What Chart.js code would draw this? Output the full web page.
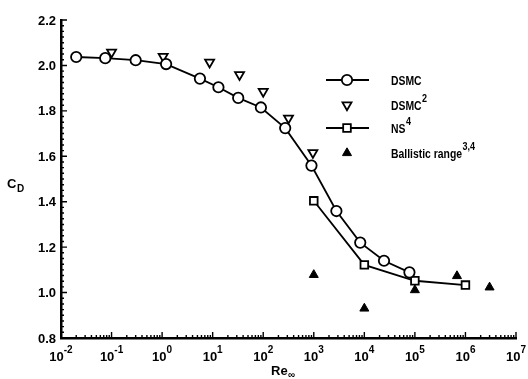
<html>
<head>
<meta charset="utf-8">
<title>CD vs Re</title>
<script src="https://cdn.jsdelivr.net/npm/chart.js@4.4.0/dist/chart.umd.min.js"></script>
<style>
  body { margin: 0; background: #fff; }
  #c { display: block; }
</style>
</head>
<body>
<canvas id="c" width="528" height="379"></canvas>
<script>
// values
var dsmcRe  = [0.02, 0.075, 0.3, 1.2, 5.6, 13, 32, 90, 272, 900, 2800, 8300, 24500, 78000];
var dsmcCd  = [2.037, 2.032, 2.023, 2.006, 1.942, 1.904, 1.857, 1.815, 1.724, 1.559, 1.359, 1.22, 1.14, 1.089];
var dsmc2Re = [0.1, 1.05, 8.7, 34, 100, 316, 960];
var dsmc2Cd = [2.058, 2.039, 2.014, 1.959, 1.885, 1.768, 1.616];
var nsRe    = [1000, 10000, 100000, 1000000];
var nsCd    = [1.404, 1.122, 1.052, 1.033];
var ballRe  = [1000, 10000, 100000, 680000, 3000000];
var ballCd  = [1.078, 0.93, 1.011, 1.073, 1.023];

var xExps   = [-2, -1, 0, 1, 2, 3, 4, 5, 6, 7];
var yTicks  = [0.8, 1.0, 1.2, 1.4, 1.6, 1.8, 2.0, 2.2];

var legendNames = [["DSMC", ""], ["DSMC", "2"], ["NS", "4"], ["Ballistic range", "3,4"]];

function pts(xs, ys) {
  return xs.map(function (x, i) { return { x: x, y: ys[i] }; });
}

var FONT = "'Liberation Sans', Arial, sans-serif";

// condensed bold text, like the scanned original
function squeezed(ctx, txt, x, y, size, sx) {
  ctx.save();
  ctx.font = 'bold ' + size + 'px ' + FONT;
  ctx.translate(x, y);
  ctx.scale(sx, 1);
  ctx.fillText(txt, 0, 0);
  var w = ctx.measureText(txt).width * sx;
  ctx.restore();
  return w;
}

// draws ticks, labels, titles and the in-plot legend
var decor = {
  id: 'decor',
  afterDraw: function (chart) {
    var ctx = chart.ctx;
    var xs = chart.scales.x, ys = chart.scales.y;
    var area = chart.chartArea;
    var x0 = area.left, yb = area.bottom;
    ctx.save();
    ctx.strokeStyle = '#000';
    ctx.fillStyle = '#000';
    ctx.lineWidth = 1.4;

    // x ticks (inward)
    ctx.beginPath();
    xExps.forEach(function (e, i) {
      var px = xs.getPixelForValue(Math.pow(10, e));
      ctx.moveTo(px, yb); ctx.lineTo(px, yb - 6);
      if (i < xExps.length - 1) {
        for (var m = 2; m <= 9; m++) {
          var mx = xs.getPixelForValue(m * Math.pow(10, e));
          ctx.moveTo(mx, yb); ctx.lineTo(mx, yb - 3);
        }
      }
    });
    // y ticks (inward)
    for (var v = 0.8; v <= 2.2001; v += 0.025) {
      var py = ys.getPixelForValue(v);
      var major = Math.abs(v * 5 - Math.round(v * 5)) < 1e-6;
      ctx.moveTo(x0, py); ctx.lineTo(x0 + (major ? 6 : 3), py);
    }
    ctx.stroke();

    // y labels
    ctx.font = 'bold 13px ' + FONT;
    ctx.textAlign = 'right';
    ctx.textBaseline = 'middle';
    yTicks.forEach(function (t) {
      ctx.fillText(t.toFixed(1), x0 - 5, ys.getPixelForValue(t) + 1);
    });

    // x labels 10^n
    xExps.forEach(function (e) {
      var px = xs.getPixelForValue(Math.pow(10, e));
      ctx.font = 'bold 13px ' + FONT;
      var wb = ctx.measureText('10').width;
      ctx.font = 'bold 10px ' + FONT;
      var sup = String(e);
      var ws = ctx.measureText(sup).width;
      var start = px - (wb + ws) / 2;
      ctx.textAlign = 'left';
      ctx.textBaseline = 'alphabetic';
      ctx.font = 'bold 13px ' + FONT;
      ctx.fillText('10', start, yb + 23);
      ctx.font = 'bold 10px ' + FONT;
      ctx.fillText(sup, start + wb, yb + 15);
    });

    // axis titles
    ctx.textAlign = 'left';
    ctx.textBaseline = 'alphabetic';
    ctx.font = 'bold 13px ' + FONT;
    ctx.fillText('C', 7, 188);
    ctx.font = 'bold 10px ' + FONT;
    ctx.fillText('D', 17, 192);
    ctx.font = 'bold 13px ' + FONT;
    ctx.fillText('Re', 271, 375);
    ctx.font = 'bold 10px ' + FONT;
    ctx.fillText('\u221e', 288, 378);

    // legend
    var rows = [80, 105, 128, 153];
    var lx0 = 326, lx1 = 369, lm = 347, tx = 391;
    var helpers = Chart.helpers;
    chart.data.datasets.forEach(function (ds, i) {
      var y = rows[i];
      ctx.strokeStyle = '#000';
      if (ds.showLine) {
        ctx.lineWidth = ds.borderWidth;
        ctx.beginPath();
        ctx.moveTo(lx0, y); ctx.lineTo(lx1, y);
        ctx.stroke();
      }
      ctx.lineWidth = ds.pointBorderWidth;
      ctx.strokeStyle = ds.pointBorderColor;
      ctx.fillStyle = ds.pointBackgroundColor;
      helpers.drawPoint(ctx, {
        pointStyle: ds.pointStyle,
        rotation: ds.pointRotation || 0,
        radius: ds.pointRadius,
        borderWidth: ds.pointBorderWidth
      }, lm, y);
      ctx.fillStyle = '#000';
      ctx.textAlign = 'left';
      ctx.textBaseline = 'middle';
      var name = legendNames[i][0];
      var w = squeezed(ctx, name, tx, y + 1, 13, 0.8);
      if (legendNames[i][1]) {
        squeezed(ctx, legendNames[i][1], tx + w + 0.5, y - 6, 10, 0.9);
      }
    });
    ctx.restore();
  }
};

var ctx = document.getElementById('c').getContext('2d');
var chart = new Chart(ctx, {
  type: 'scatter',
  data: {
    datasets: [{
      label: 'DSMC',
      data: pts(dsmcRe, dsmcCd),
      showLine: true,
      borderColor: '#000',
      borderWidth: 1.8,
      pointStyle: 'circle',
      pointRadius: 5.2,
      pointBorderWidth: 1.8,
      pointBorderColor: '#000',
      pointBackgroundColor: '#fff'
    }, {
      label: 'DSMC2',
      data: pts(dsmc2Re, dsmc2Cd),
      showLine: false,
      pointStyle: 'triangle',
      pointRotation: 180,
      pointRadius: 5.2,
      pointBorderWidth: 1.8,
      pointBorderColor: '#000',
      pointBackgroundColor: '#fff'
    }, {
      label: 'NS4',
      data: pts(nsRe, nsCd),
      showLine: true,
      borderColor: '#000',
      borderWidth: 1.8,
      pointStyle: 'rect',
      pointRadius: 5.4,
      pointBorderWidth: 1.8,
      pointBorderColor: '#000',
      pointBackgroundColor: '#fff'
    }, {
      label: 'Ballistic range',
      data: pts(ballRe, ballCd),
      showLine: false,
      pointStyle: 'triangle',
      pointRadius: 5.2,
      pointBorderWidth: 1,
      pointBorderColor: '#000',
      pointBackgroundColor: '#000'
    }]
  },
  options: {
    responsive: false,
    animation: false,
    layout: { padding: { left: 0, top: 20, right: 12, bottom: 0 } },
    plugins: { legend: { display: false }, tooltip: { enabled: false } },
    scales: {
      x: {
        type: 'logarithmic',
        min: 0.01,
        max: 10000000,
        grid: { display: false, drawTicks: false },
        border: { display: true, color: '#000', width: 2.5 },
        ticks: { display: false },
        afterFit: function (s) { s.height = 41; }
      },
      y: {
        type: 'linear',
        min: 0.8,
        max: 2.2,
        grid: { display: false, drawTicks: false },
        border: { display: true, color: '#000', width: 2.5 },
        ticks: { display: false },
        afterFit: function (s) { s.width = 61; }
      }
    }
  },
  plugins: [decor]
});
</script>
</body>
</html>
